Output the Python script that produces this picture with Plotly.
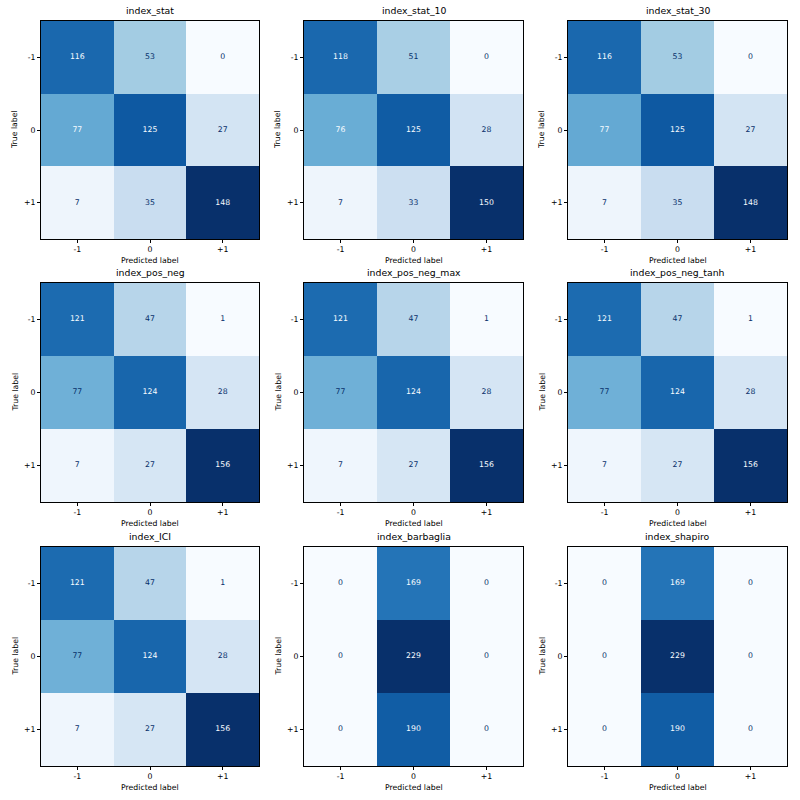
import plotly.graph_objects as go

labels = ["-1", "0", "+1"]
titles = ["index_stat", "index_stat_10", "index_stat_30",
          "index_pos_neg", "index_pos_neg_max", "index_pos_neg_tanh",
          "index_ICI", "index_barbaglia", "index_shapiro"]

cm_index_stat = [[116, 53, 0], [77, 125, 27], [7, 35, 148]]
cm_index_stat_10 = [[118, 51, 0], [76, 125, 28], [7, 33, 150]]
cm_index_stat_30 = [[116, 53, 0], [77, 125, 27], [7, 35, 148]]
cm_index_pos_neg = [[121, 47, 1], [77, 124, 28], [7, 27, 156]]
cm_index_pos_neg_max = [[121, 47, 1], [77, 124, 28], [7, 27, 156]]
cm_index_pos_neg_tanh = [[121, 47, 1], [77, 124, 28], [7, 27, 156]]
cm_index_ICI = [[121, 47, 1], [77, 124, 28], [7, 27, 156]]
cm_index_barbaglia = [[0, 169, 0], [0, 229, 0], [0, 190, 0]]
cm_index_shapiro = [[0, 169, 0], [0, 229, 0], [0, 190, 0]]

matrices = [cm_index_stat, cm_index_stat_10, cm_index_stat_30,
            cm_index_pos_neg, cm_index_pos_neg_max, cm_index_pos_neg_tanh,
            cm_index_ICI, cm_index_barbaglia, cm_index_shapiro]

blues = [[0.0, "#f7fbff"], [0.125, "#deebf7"], [0.25, "#c6dbef"], [0.375, "#9ecae1"],
         [0.5, "#6baed6"], [0.625, "#4292c6"], [0.75, "#2171b5"], [0.875, "#08519c"],
         [1.0, "#08306b"]]

W = 800.0
col_px = [(41, 259), (304, 523), (568, 787)]
row_px = [(21, 239), (283, 502), (547, 766)]

FONT = "DejaVu Sans"
fig = go.Figure()
annotations = []
layout = {}

for k, (title, cm) in enumerate(zip(titles, matrices)):
    r, c = divmod(k, 3)
    ax = "" if k == 0 else str(k + 1)
    xa, ya = "x" + ax, "y" + ax
    flat = [v for row in cm for v in row]
    vmin, vmax = min(flat), max(flat)
    thresh = (vmax + vmin) / 2.0
    fig.add_trace(go.Heatmap(z=cm, x=labels, y=labels, colorscale=blues,
                             zmin=vmin, zmax=vmax, showscale=False,
                             xaxis=xa, yaxis=ya, hoverinfo="skip"))
    tx, ty, tt, tc = [], [], [], []
    for i, row in enumerate(cm):
        for j, v in enumerate(row):
            tx.append(labels[j]); ty.append(labels[i]); tt.append(str(v))
            tc.append("#08306b" if v < thresh else "#f7fbff")
    fig.add_trace(go.Scatter(x=tx, y=ty, text=tt, mode="text",
                             textfont=dict(color=tc, size=7.75, family=FONT),
                             xaxis=xa, yaxis=ya, showlegend=False, hoverinfo="skip"))
    x0, x1 = col_px[c]
    y0, y1 = row_px[r]
    common = dict(type="category", showline=True, mirror=True, linecolor="black",
                  linewidth=1, ticks="outside", ticklen=3, tickwidth=0.8,
                  tickcolor="black", showgrid=False, zeroline=False,
                  tickfont=dict(size=7.75, family=FONT, color="black"), fixedrange=True)
    layout["xaxis" + ax] = dict(common, domain=[x0 / W, x1 / W], anchor=ya,
                                range=[-0.5, 2.5], categoryarray=labels, categoryorder="array")
    layout["yaxis" + ax] = dict(common, domain=[1 - y1 / W, 1 - y0 / W], anchor=xa,
                                range=[2.5, -0.5], categoryarray=labels, categoryorder="array")
    xc = (x0 + x1) / 2 / W
    annotations.append(dict(text=title, x=xc, y=1 - (y0 - 3) / W, xref="paper", yref="paper",
                            xanchor="center", yanchor="bottom", showarrow=False,
                            font=dict(size=9.3, family=FONT, color="black")))
    annotations.append(dict(text="Predicted label", x=xc, y=1 - (y1 + 15) / W, xref="paper",
                            yref="paper", xanchor="center", yanchor="top", showarrow=False,
                            font=dict(size=7.75, family=FONT, color="black")))
    annotations.append(dict(text="True label", x=(x0 - 26) / W, y=1 - (y0 + y1) / 2 / W,
                            xref="paper", yref="paper", xanchor="center", yanchor="middle",
                            textangle=-90, showarrow=False,
                            font=dict(size=7.75, family=FONT, color="black")))

fig.update_layout(width=800, height=800, margin=dict(l=0, r=0, t=0, b=0),
                  paper_bgcolor="white", plot_bgcolor="white", showlegend=False,
                  annotations=annotations, **layout)
fig.write_html("out.html")
